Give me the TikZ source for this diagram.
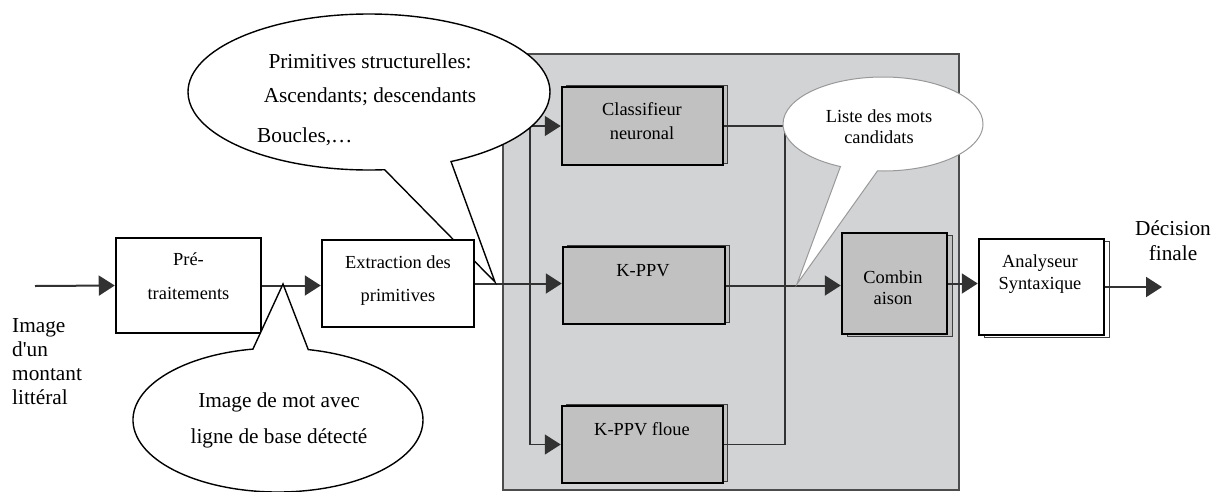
\documentclass[tikz,border=0pt]{standalone}
\usepackage{fontspec}
\setmainfont{Liberation Serif}
\usetikzlibrary{arrows.meta,shapes.geometric,shapes.callouts,shadows}
\definecolor{panelgray}{RGB}{210,211,213}
\definecolor{boxgray}{RGB}{193,193,193}
\definecolor{linegray}{RGB}{50,50,50}
\newcommand\bxfont{\fontsize{18.4}{22}\selectfont}
\newcommand\clfont{\fontsize{21.3}{24}\selectfont}
\tikzset{
  stagebox/.style={draw=black, line width=2.5pt, inner sep=0pt, fill=white},
  graybox/.style={stagebox, fill=boxgray},
  shadowup/.style={copy shadow={shadow xshift=4pt, shadow yshift=2pt, draw=black!75, line width=0.9pt}},
  shadowdown/.style={copy shadow={shadow xshift=5pt, shadow yshift=-2pt, draw=black!75, line width=0.9pt}},
  boxtxt/.style={font=\bxfont, anchor=base, inner sep=0pt},
  bigtxt/.style={font=\clfont, anchor=base, inner sep=0pt},
  conn/.style={draw=linegray, line width=2pt, -{Triangle[length=16pt,width=20pt]}},
  branch/.style={draw=linegray, line width=1.6pt},
  bubble/.style={ellipse callout, draw=black, line width=1.4pt, fill=white, inner sep=0pt, callout pointer arc=22},
  softbubble/.style={bubble, draw=black!40, line width=1pt}
}
\begin{document}
\begin{tikzpicture}[x=1pt, y=-1pt]
\useasboundingbox (0,0) rectangle (1221,491);

% classifier panel
\node[draw=black!70, line width=1.2pt, fill=panelgray, minimum width=456pt, minimum height=436pt, inner sep=0pt] (panel) at (731,272) {};

% connection points
\coordinate (in) at (35,286);
\coordinate (split) at (530,284);
\coordinate (merge) at (785,285);
\coordinate (out) at (1162,287);
\coordinate (tipA) at (283,284);
\coordinate (tipB) at (495,282);
\coordinate (tipC) at (797,284);

% processing boxes
\node[stagebox, minimum width=145pt, minimum height=95pt] (prep) at (188.5,285.5) {};
\node[stagebox, minimum width=152pt, minimum height=87pt] (extr) at (398,283.5) {};
\node[graybox, shadowup, minimum width=161pt, minimum height=78pt] (clas) at (642.5,126) {};
\node[graybox, shadowup, minimum width=162pt, minimum height=77pt] (kppv) at (644,285.5) {};
\node[graybox, shadowup, minimum width=161pt, minimum height=77pt] (kfl) at (642.5,444.5) {};
\node[graybox, shadowdown, minimum width=105pt, minimum height=101pt] (comb) at (894.5,283.5) {};
\node[stagebox, shadowdown, minimum width=125pt, minimum height=96pt] (anal) at (1041.5,287) {};

% connectors
\draw[conn] (in) -- (prep.west);
\draw[conn] (prep.east) -- (prep.east -| extr.west);
\draw[conn] (extr.east) -- (extr.east -| kppv.west);
\draw[branch] (split |- clas.west) -- (split |- kfl.west);
\draw[conn, line width=1.6pt] (split |- clas.west) -- (clas.west);
\draw[conn, line width=1.6pt] (split |- kfl.west) -- (kfl.west);
\draw[branch] (clas.east) -| (merge) |- (kfl.east);
\draw[conn] (kppv.east) -- (kppv.east -| comb.west);
\draw[conn] (comb.east) -- (comb.east -| anal.west);
\draw[conn] (anal.east) -- (out);

% speech bubbles
\node[bubble, minimum width=362pt, minimum height=156pt, callout absolute pointer={(tipB)}] (features) at (369,92) {};
\node[bubble, minimum width=290pt, minimum height=144pt, callout absolute pointer={(tipA)}] (baseline) at (278,420) {};
\node[softbubble, minimum width=200pt, minimum height=94pt, callout absolute pointer={(tipC)}] (candidates) at (883,124) {};

% extraction box drawn again over the pointer of the upper bubble
\node[stagebox, minimum width=152pt, minimum height=87pt] at (extr) {};

% box texts
\node[boxtxt] at (188.5,265) {Pré-};
\node[boxtxt] at (188.5,299) {traitements};
\node[boxtxt] at (398,268) {Extraction des};
\node[boxtxt] at (398,301) {primitives};
\node[boxtxt] at (642,115) {Classifieur};
\node[boxtxt] at (642,139) {neuronal};
\node[boxtxt] at (643,276) {K-PPV};
\node[boxtxt] at (642,435) {K-PPV floue};
\node[boxtxt] at (893,283) {Combin};
\node[boxtxt] at (893,304) {aison};
\node[boxtxt] at (1040,267) {Analyseur};
\node[boxtxt] at (1040,289) {Syntaxique};

% bubble texts
\node[bigtxt] at (370,68) {Primitives structurelles:};
\node[bigtxt] at (370,102) {Ascendants; descendants};
\node[bigtxt, anchor=base west] at (257,142) {Boucles,…};
\node[bigtxt] at (279,407) {Image de mot avec};
\node[bigtxt] at (279,443) {ligne de base détecté};
\node[boxtxt] at (879,122) {Liste des mots};
\node[boxtxt] at (879,143) {candidats};

% input and output labels
\node[bigtxt, anchor=base west] at (12,332) {Image};
\node[bigtxt, anchor=base west] at (12,356) {d\textquotesingle un};
\node[bigtxt, anchor=base west] at (12,380) {montant};
\node[bigtxt, anchor=base west] at (12,404) {littéral};
\node[bigtxt] at (1173,235) {Décision};
\node[bigtxt] at (1173,260) {finale};
\end{tikzpicture}
\end{document}
